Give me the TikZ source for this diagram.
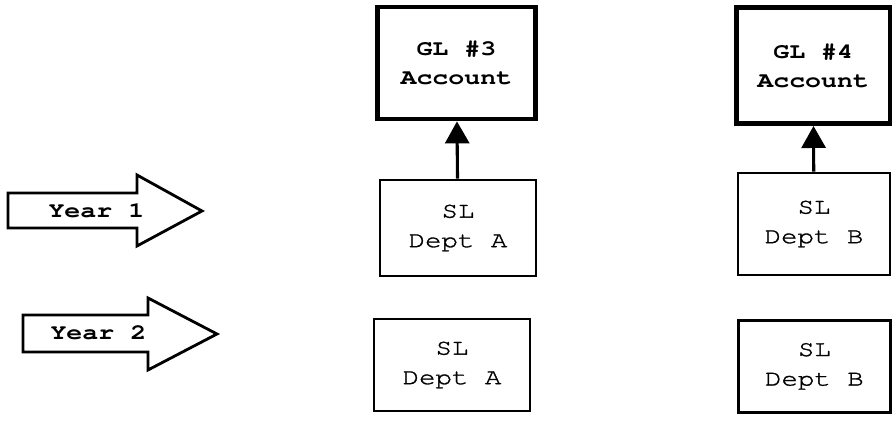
\documentclass[tikz,border=0pt]{standalone}
\usepackage{fontspec}
\usepackage{tikz}
\usetikzlibrary{arrows.meta,positioning}
\newfontfamily\ledgerfont[Extension=.otf, UprightFont=*-regular, BoldFont=*-bold,
  UprightFeatures={FakeBold=1.3}, FakeStretch=1.22]{texgyrecursor}
\tikzset{
  glbox/.style={
    draw=black,
    line width=3.4pt,
    minimum width=3.85cm,
    minimum height=2.75cm,
    align=center,
    font=\ledgerfont\bfseries\fontsize{15.5}{21}\selectfont
  },
  slbox/.style={
    draw=black,
    line width=2pt,
    minimum width=3.9cm,
    minimum height=2.3cm,
    align=center,
    font=\ledgerfont\fontsize{16}{21}\selectfont
  },
  yearshape/.style={
    draw=black,
    line width=2pt,
    line join=miter
  },
  yeartext/.style={
    font=\ledgerfont\bfseries\fontsize{15.5}{20}\selectfont
  },
  postarrow/.style={
    -{Triangle[length=0.55cm,width=0.6cm]},
    line width=2.2pt
  }
}

\begin{document}
\begin{tikzpicture}
\useasboundingbox (0,0) rectangle (22.3,-10.575);
% general ledger accounts
\node[glbox, minimum width=3.95cm, minimum height=2.8cm] (gl3) at (11.41,-1.575) {GL \#3\\Account};
\node[glbox, minimum height=2.9cm] (gl4) at (20.33,-1.64) {GL \#4\\Account};
% subledgers, first year
\node[slbox, minimum height=2.4cm] (sla1) at (11.45,-5.7) {SL\\Dept A};
\node[slbox, minimum width=3.8cm, minimum height=2.55cm] (slb1) at (20.35,-5.6) {SL\\Dept B};
% subledgers, second year
\node[slbox] (sla2) at (11.3,-9.125) {SL\\Dept A};
\node[slbox, minimum width=3.8cm] (slb2) at (20.36,-9.16) {SL\\Dept B};
\draw[postarrow] (sla1) -- (gl3);
\draw[postarrow] (slb1) -- (gl4);
% year markers
\draw[yearshape] (0.2,-4.825) -- ++(3.225,0) -- ++(0,0.45) -- ++(1.625,-0.9)
  -- ++(-1.625,-0.875) -- ++(0,0.45) -- ++(-3.225,0) -- cycle;
\node[yeartext] (year1) at (2.41,-5.275) {Year 1};
\draw[yearshape] (0.575,-7.875) -- ++(3.125,0) -- ++(0,0.425) -- ++(1.725,-0.9)
  -- ++(-1.725,-0.9) -- ++(0,0.45) -- ++(-3.125,0) -- cycle;
\node[yeartext] (year2) at (2.46,-8.33) {Year 2};
\end{tikzpicture}
\end{document}
